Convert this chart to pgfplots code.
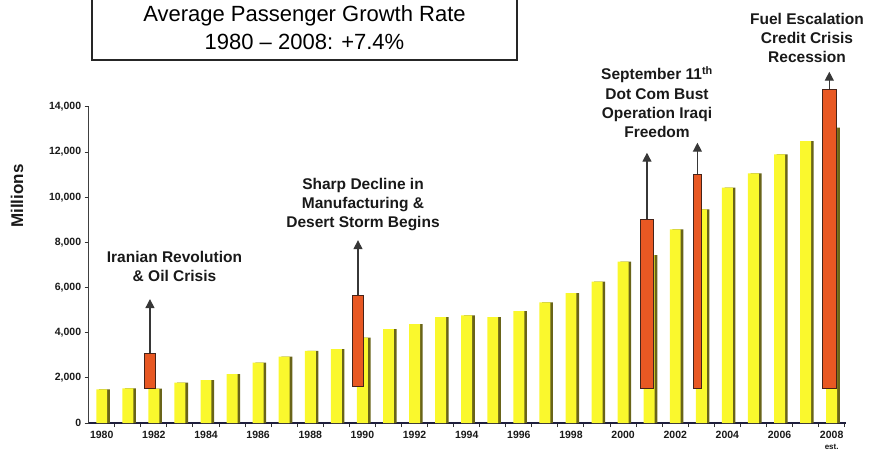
\documentclass[border=0pt]{standalone}
\usepackage{pgfplots}
\pgfplotsset{compat=1.18}
\usepackage{pgfplotstable}
\usepackage{fontspec}
\setmainfont{Liberation Sans}
\usetikzlibrary{arrows.meta}
\definecolor{baryellow}{RGB}{250,248,45}
\definecolor{barshadow}{RGB}{105,100,25}
\definecolor{barred}{RGB}{232,88,35}
\definecolor{reddraw}{RGB}{70,35,25}
\definecolor{arrowcol}{RGB}{55,55,55}
\definecolor{xaxiscol}{RGB}{30,30,60}
\definecolor{txt}{RGB}{25,25,25}

\pgfplotstableread{
year value
1980 1490
1981 1537
1982 1520
1983 1785
1984 1905
1985 2170
1986 2670
1987 2937
1988 3190
1989 3278
1990 3780
1991 4160
1992 4386
1993 4696
1994 4770
1995 4696
1996 4962
1997 5346
1998 5759
1999 6261
2000 7147
2001 7443
2002 8580
2003 9466
2004 10425
2005 11060
2006 11903
2007 12493
2008 13082
}\yellowdata

\begin{document}
\begin{tikzpicture}
\path[use as bounding box] (0pt,0pt) rectangle (869pt,461pt);
\begin{axis}[
  at={(88.7pt,38pt)}, anchor=south west,
  scale only axis, width=757.3pt, height=316pt,
  xmin=1979.5, xmax=2008.55, ymin=0, ymax=14000,
  clip=false,
  axis lines*=left,
  x axis line style={draw=xaxiscol, line width=1.8pt},
  y axis line style={draw=black!75, line width=1.2pt},
  tick align=outside,
  major tick length=4pt,
  tick style={draw=black!80, line width=1pt},
  xtick={1980.5,1981.5,...,2008.5},
  xticklabels={},
  extra x ticks={1980,1982,...,2008},
  extra x tick labels={1980,1982,1984,1986,1988,1990,1992,1994,1996,1998,2000,2002,2004,2006,{2008\\[-1pt]{\fontsize{8}{9}\selectfont est.}}},
  extra x tick style={major tick length=0pt, tick style={draw=none}},
  xticklabel style={font=\fontsize{10.5}{12}\selectfont\bfseries, align=center, text=txt, yshift=-5pt},
  scaled y ticks=false,
  ytick={0,2000,...,14000},
  yticklabel style={font=\fontsize{10.5}{12}\selectfont\bfseries, text=txt},
  /pgf/number format/1000 sep={,},
  /pgf/number format/assume math mode=true,
]
% yellow bars: shadow then face
\addplot[ybar, bar width=0.42, bar shift=0.1, fill=barshadow, draw=none] table[x=year,y=value]{\yellowdata};
\addplot[ybar, bar width=0.42, bar shift=0, fill=baryellow, draw=none] table[x=year,y=value]{\yellowdata};
% red floating bars
\addplot[fill=barred, draw=reddraw, line width=0.9pt] coordinates {(1981.64,1537) (1982.06,1537) (1982.06,3088) (1981.64,3088)} -- cycle;
\addplot[fill=barred, draw=reddraw, line width=0.9pt] coordinates {(1989.63,1608) (1990.03,1608) (1990.03,5670) (1989.63,5670)} -- cycle;
\addplot[fill=barred, draw=reddraw, line width=0.9pt] coordinates {(2000.68,1540) (2001.15,1540) (2001.15,9023) (2000.68,9023)} -- cycle;
\addplot[fill=barred, draw=reddraw, line width=0.9pt] coordinates {(2002.68,1540) (2003.02,1540) (2003.02,11017) (2002.68,11017)} -- cycle;
\addplot[fill=barred, draw=reddraw, line width=0.9pt] coordinates {(2007.65,1540) (2008.17,1540) (2008.17,14783) (2007.65,14783)} -- cycle;
% arrows
\addplot[arrowcol, line width=1.3pt, -{Triangle[width=9pt,length=9pt]}] coordinates {(1981.85,3088) (1981.85,5490)};
\addplot[arrowcol, line width=1.3pt, -{Triangle[width=9pt,length=9pt]}] coordinates {(1989.83,5670) (1989.83,8100)};
\addplot[arrowcol, line width=1.3pt, -{Triangle[width=9pt,length=9pt]}] coordinates {(2000.915,9023) (2000.915,11975)};
\addplot[arrowcol, line width=1.3pt, -{Triangle[width=9pt,length=9pt]}] coordinates {(2002.85,11017) (2002.85,12418)};
\addplot[arrowcol, line width=1.3pt, -{Triangle[width=9pt,length=9pt]}] coordinates {(2007.91,14783) (2007.91,15563)};
\end{axis}
% title box
\draw[line width=1.4pt, draw=black!85] (92pt,470pt) -- (92pt,401pt) -- (517pt,401pt) -- (517pt,470pt);
\node[anchor=base, inner sep=0pt, font=\fontsize{22}{26}\selectfont] at (304.5pt,439.3pt) {Average Passenger Growth Rate};
\node[anchor=base, inner sep=0pt, font=\fontsize{22}{26}\selectfont] at (304.5pt,411pt) {1980 – 2008: +7.4\%};
% y label
\node[rotate=90, font=\fontsize{17}{20}\selectfont\bfseries, text=txt] at (17pt,265pt) {Millions};
% annotations
\begin{scope}[every node/.style={anchor=base, inner sep=0pt, font=\fontsize{15.5}{19}\selectfont\bfseries, text=txt}]
\node at (174.5pt,199pt) {Iranian Revolution};
\node at (174.5pt,180pt) {\& Oil Crisis};
\node at (363pt,271pt) {Sharp Decline in};
\node at (363pt,252.5pt) {Manufacturing \&};
\node at (363pt,233.5pt) {Desert Storm Begins};
\node at (657pt,381pt) {September 11\textsuperscript{th}};
\node at (657pt,361.7pt) {Dot Com Bust};
\node at (657pt,342.7pt) {Operation Iraqi};
\node at (657pt,323.7pt) {Freedom};
\node at (807pt,436.3pt) {Fuel Escalation};
\node at (807pt,417.3pt) {Credit Crisis};
\node at (807pt,398.3pt) {Recession};
\end{scope}
\end{tikzpicture}
\end{document}
